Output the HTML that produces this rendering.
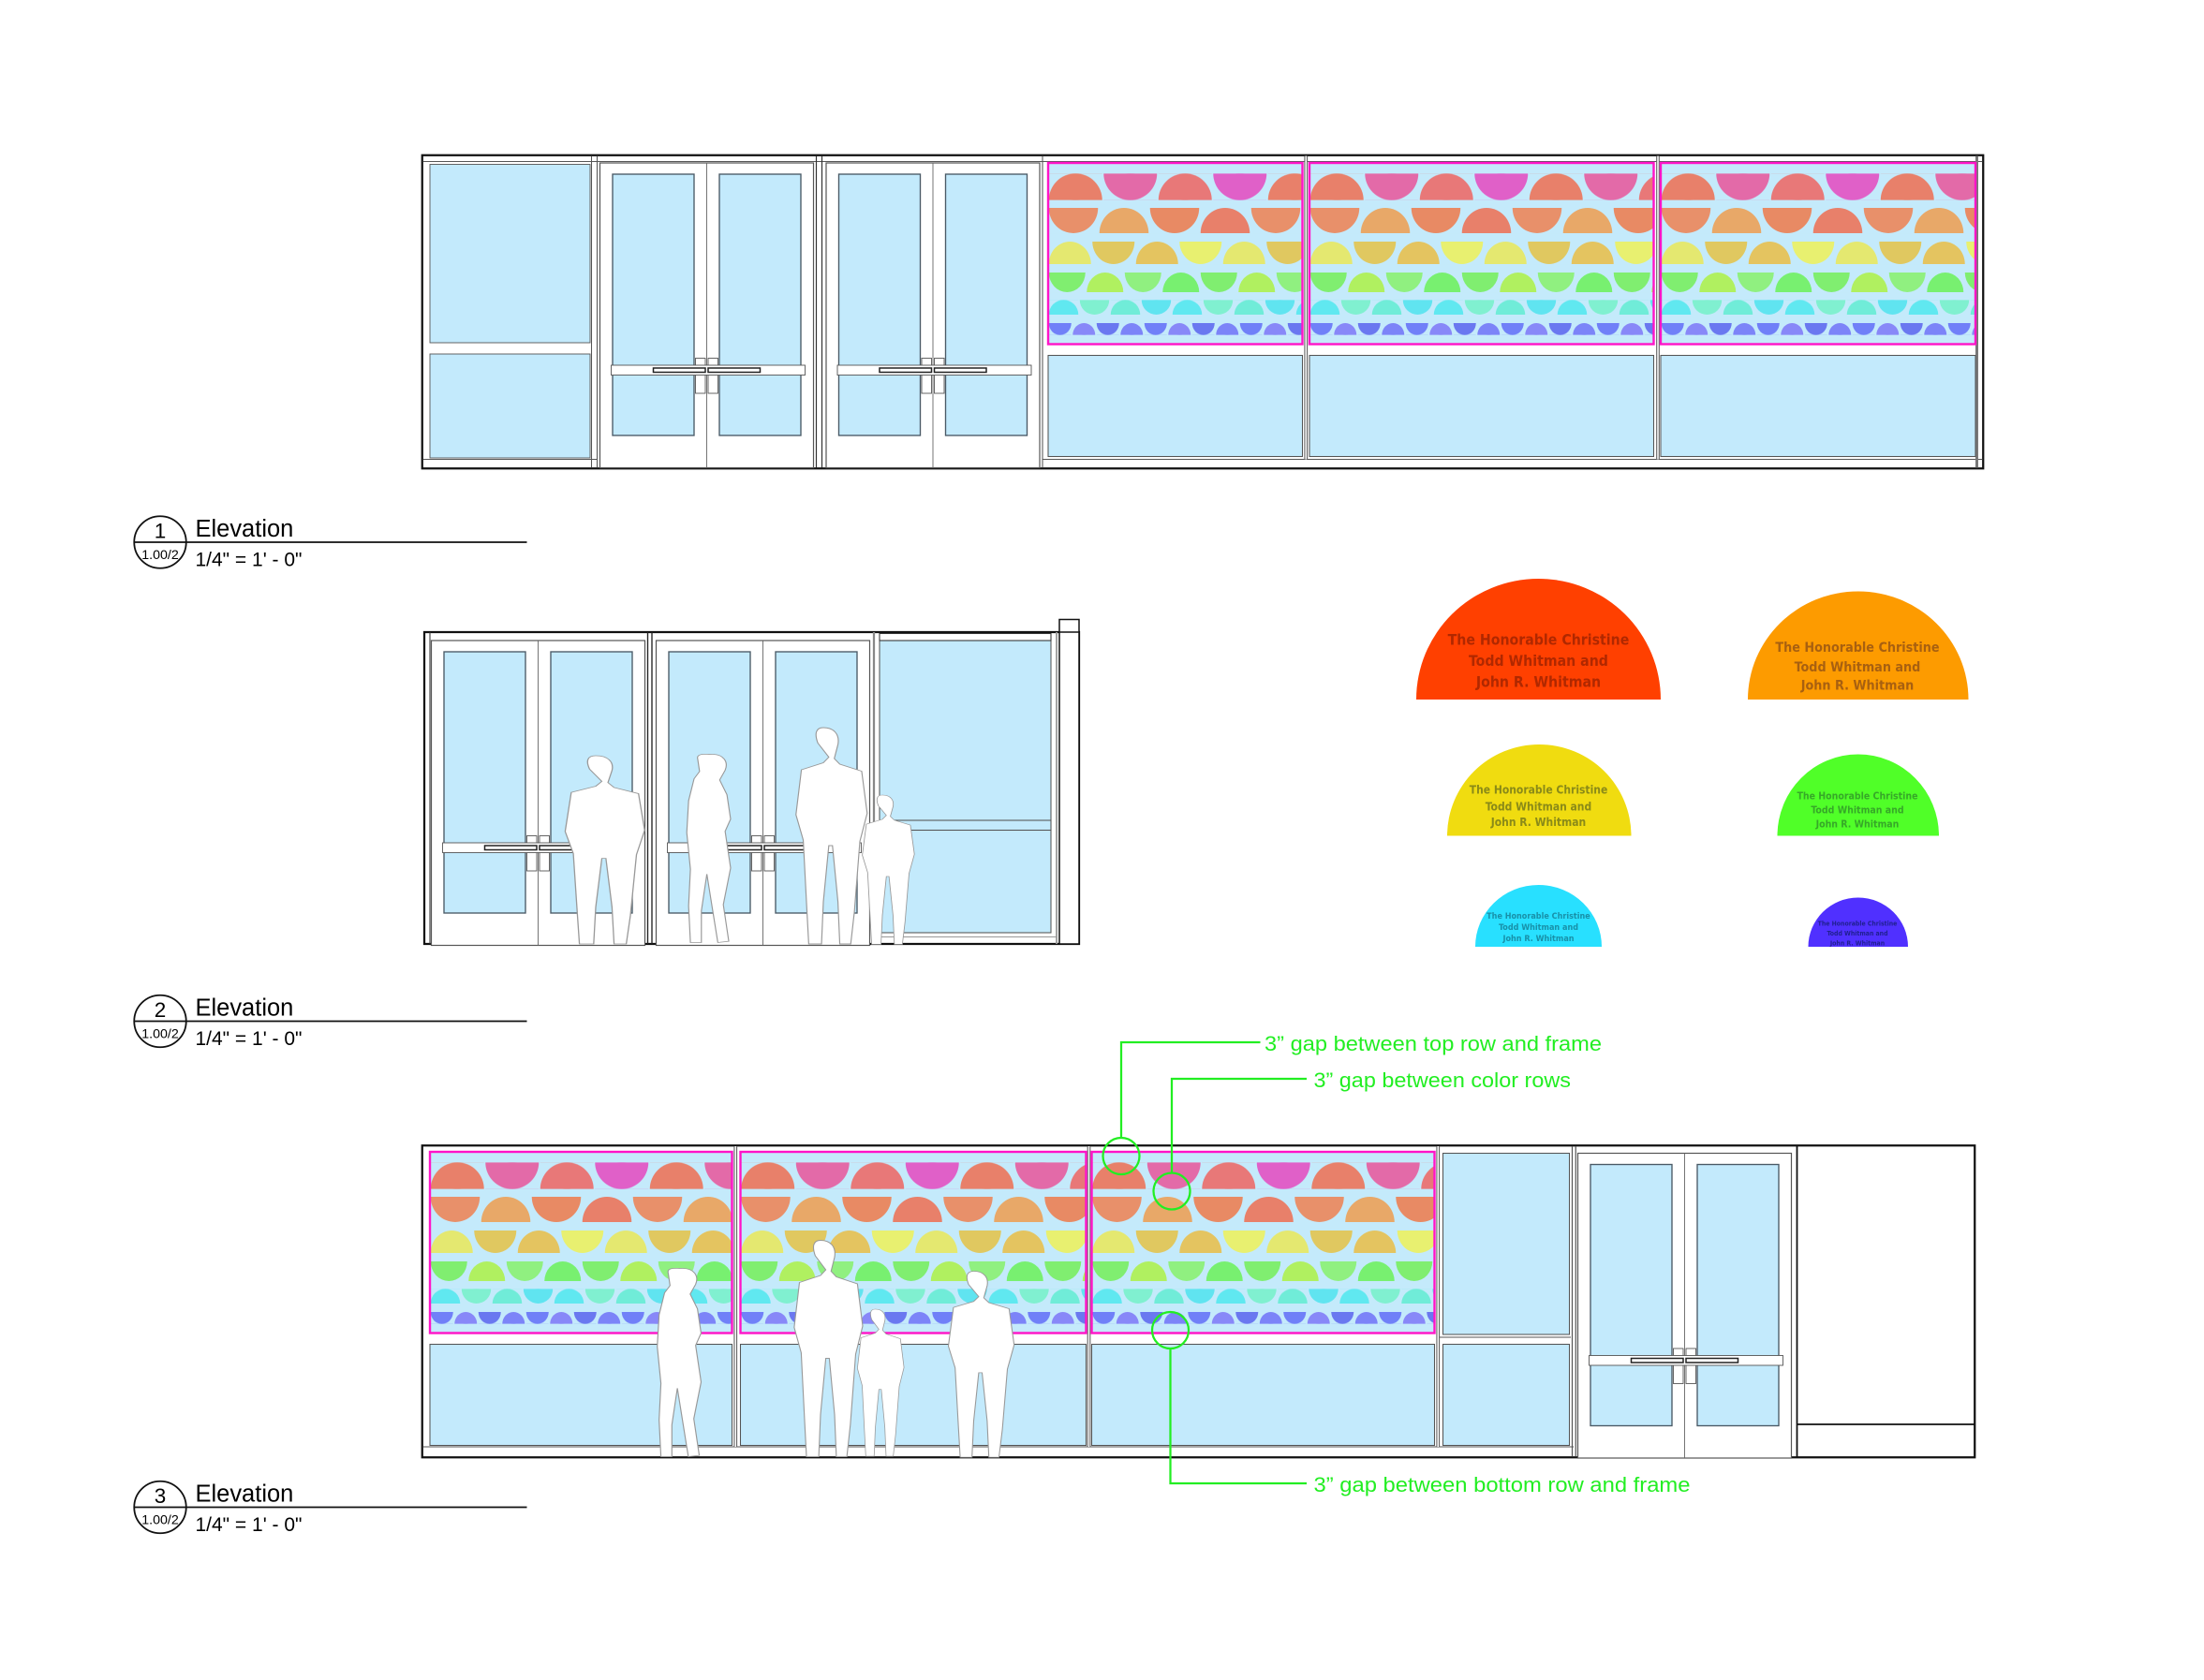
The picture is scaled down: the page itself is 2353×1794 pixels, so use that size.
<!DOCTYPE html>
<html><head><meta charset="utf-8"><style>html,body{margin:0;padding:0;background:#fff}svg{display:block}</style></head>
<body>
<svg width="2353" height="1794" viewBox="0 0 1568.67 1196" xmlns="http://www.w3.org/2000/svg" font-family="Liberation Sans, sans-serif">
<defs>
<pattern id="r1" patternUnits="userSpaceOnUse" x="0" y="7.5" width="156" height="19">
 <path d="M0.5,19 A19,19 0 0 1 38.5,19Z" fill="#e8806a"/>
 <path d="M39.5,0 A19,19 0 0 0 77.5,0Z" fill="#e36aa8"/>
 <path d="M78.5,19 A19,19 0 0 1 116.5,19Z" fill="#e87878"/>
 <path d="M117.5,0 A19,19 0 0 0 155.5,0Z" fill="#e060c8"/>
</pattern>
<pattern id="r2" patternUnits="userSpaceOnUse" x="0" y="32" width="144" height="18">
 <path d="M0.5,0 A17.5,18 0 0 0 35.5,0Z" fill="#e8906a"/>
 <path d="M36.5,18 A17.5,18 0 0 1 71.5,18Z" fill="#e8a868"/>
 <path d="M72.5,0 A17.5,18 0 0 0 107.5,0Z" fill="#e88a64"/>
 <path d="M108.5,18 A17.5,18 0 0 1 143.5,18Z" fill="#e8806a"/>
</pattern>
<pattern id="r3" patternUnits="userSpaceOnUse" x="0" y="56" width="124" height="16">
 <path d="M0.5,16 A15,16 0 0 1 30.5,16Z" fill="#e4e870"/>
 <path d="M31.5,0 A15,16 0 0 0 61.5,0Z" fill="#e0c860"/>
 <path d="M62.5,16 A15,16 0 0 1 92.5,16Z" fill="#e4c460"/>
 <path d="M93.5,0 A15,16 0 0 0 123.5,0Z" fill="#e8f070"/>
</pattern>
<pattern id="r4" patternUnits="userSpaceOnUse" x="0" y="78" width="108" height="14">
 <path d="M0.5,0 A13,14 0 0 0 26.5,0Z" fill="#80ee70"/>
 <path d="M27.5,14 A13,14 0 0 1 53.5,14Z" fill="#b0f060"/>
 <path d="M54.5,0 A13,14 0 0 0 80.5,0Z" fill="#90f080"/>
 <path d="M81.5,14 A13,14 0 0 1 107.5,14Z" fill="#78f070"/>
</pattern>
<pattern id="r5" patternUnits="userSpaceOnUse" x="0" y="97.5" width="88" height="10.5">
 <path d="M0.5,10.5 A10.5,10.5 0 0 1 21.5,10.5Z" fill="#60e8f0"/>
 <path d="M22.5,0 A10.5,10.5 0 0 0 43.5,0Z" fill="#80f0d0"/>
 <path d="M44.5,10.5 A10.5,10.5 0 0 1 65.5,10.5Z" fill="#70ecd8"/>
 <path d="M66.5,0 A10.5,10.5 0 0 0 87.5,0Z" fill="#60e4f0"/>
</pattern>
<pattern id="r6" patternUnits="userSpaceOnUse" x="0" y="114" width="68" height="8.5">
 <path d="M0.5,0 A8,8.5 0 0 0 16.5,0Z" fill="#7080f8"/>
 <path d="M17.5,8.5 A8,8.5 0 0 1 33.5,8.5Z" fill="#8888f8"/>
 <path d="M34.5,0 A8,8.5 0 0 0 50.5,0Z" fill="#6a78f0"/>
 <path d="M51.5,8.5 A8,8.5 0 0 1 67.5,8.5Z" fill="#7c84f8"/>
</pattern>
<g id="door">
 <rect x="0" y="0" width="152" height="217" fill="#fff" stroke="#555" stroke-width="0.8"/>
 <line x1="76" y1="0" x2="76" y2="217" stroke="#666" stroke-width="0.6"/>
 <rect x="9" y="8" width="58" height="186" fill="#c3eafc" stroke="#4a5a66" stroke-width="0.9"/>
 <rect x="85" y="8" width="58" height="186" fill="#c3eafc" stroke="#4a5a66" stroke-width="0.9"/>
 <rect x="68" y="139" width="7" height="25" fill="#fff" stroke="#555" stroke-width="0.6"/>
 <rect x="77" y="139" width="7" height="25" fill="#fff" stroke="#555" stroke-width="0.6"/>
 <rect x="8" y="144" width="138" height="7" fill="#fff" stroke="#555" stroke-width="0.6"/>
 <rect x="38" y="146" width="37" height="3" fill="#fff" stroke="#222" stroke-width="1"/>
 <rect x="77" y="146" width="37" height="3" fill="#fff" stroke="#222" stroke-width="1"/>
</g>
<path id="adult" d="M0,0 c6,0 9,5 8,12 l-2,10 l3,4 l12,5 l3,30 l-4,20 l-3,50 l-2,23 l-6,0 l-1,-30 l-3,-40 l-2,0 l-3,40 l-1,30 l-7,0 l-1,-24 l-2,-50 l-4,-18 l3,-32 l12,-5 l3,-4 l-6,-10 c-2,-7 -1,-11 3,-11 Z" fill="#fff" stroke="#999" stroke-width="0.6"/>
<path id="woman" d="M0,0 c6,0 9,6 7,13 l-3,8 l4,12 l2,20 l-3,10 l3,30 l-4,30 l3,30 l-6,1 l-3,-28 l-3,-28 l-3,30 l0,26 l-6,0 l-1,-30 l1,-30 l-2,-30 l1,-26 l3,-18 l3,-6 l-1,-10 C-9,-1 -4,0 0,0 Z" fill="#fff" stroke="#999" stroke-width="0.6"/>
</defs>

<!-- ============ ELEVATION 1 ============ -->
<rect x="300.5" y="110.5" width="1111" height="223" fill="#fff" stroke="#111" stroke-width="1.5"/>
<line x1="301" y1="115" x2="1411" y2="115" stroke="#555" stroke-width="0.6"/>
<rect x="306" y="117" width="114" height="127" fill="#c3eafc" stroke="#555" stroke-width="0.6"/>
<rect x="306" y="252" width="114" height="74" fill="#c3eafc" stroke="#555" stroke-width="0.6"/>
<line x1="301" y1="327" x2="425" y2="327" stroke="#555" stroke-width="0.7"/>
<line x1="421" y1="111" x2="421" y2="333" stroke="#555" stroke-width="0.7"/>
<line x1="425" y1="111" x2="425" y2="333" stroke="#555" stroke-width="0.7"/>
<use href="#door" x="427" y="116"/>
<line x1="581" y1="111" x2="581" y2="333" stroke="#333" stroke-width="0.8"/>
<line x1="585" y1="111" x2="585" y2="333" stroke="#333" stroke-width="0.8"/>
<use href="#door" x="588" y="116"/>
<line x1="742" y1="111" x2="742" y2="333" stroke="#555" stroke-width="0.7"/>
<line x1="742" y1="327" x2="1411" y2="327" stroke="#555" stroke-width="0.7"/>
<line x1="1407" y1="111" x2="1407" y2="333" stroke="#777" stroke-width="2"/>
<line x1="929.5" y1="111" x2="929.5" y2="327" stroke="#666" stroke-width="2.5"/>
<line x1="929.5" y1="111" x2="929.5" y2="327" stroke="#fff" stroke-width="1"/>
<line x1="1180" y1="111" x2="1180" y2="327" stroke="#666" stroke-width="2.5"/>
<line x1="1180" y1="111" x2="1180" y2="327" stroke="#fff" stroke-width="1"/>
<rect x="746" y="253" width="181" height="72" fill="#c3eafc" stroke="#555" stroke-width="0.7"/>
<rect x="932" y="253" width="245" height="72" fill="#c3eafc" stroke="#555" stroke-width="0.7"/>
<rect x="1182" y="253" width="224" height="72" fill="#c3eafc" stroke="#555" stroke-width="0.7"/>

<g transform="translate(746,116)">
 <rect x="0" y="0" width="181" height="129" fill="#c4eafb"/>
 <rect x="0" y="7.5" width="181" height="19" fill="url(#r1)"/><rect x="0" y="32" width="181" height="18" fill="url(#r2)"/><rect x="0" y="56" width="181" height="16" fill="url(#r3)"/><rect x="0" y="78" width="181" height="14" fill="url(#r4)"/><rect x="0" y="97.5" width="181" height="10.5" fill="url(#r5)"/><rect x="0" y="114" width="181" height="8.5" fill="url(#r6)"/>
 <rect x="0" y="0" width="181" height="129" fill="none" stroke="#ff14c8" stroke-width="1.6"/>
</g>
<g transform="translate(932,116)">
 <rect x="0" y="0" width="245" height="129" fill="#c4eafb"/>
 <rect x="0" y="7.5" width="245" height="19" fill="url(#r1)"/><rect x="0" y="32" width="245" height="18" fill="url(#r2)"/><rect x="0" y="56" width="245" height="16" fill="url(#r3)"/><rect x="0" y="78" width="245" height="14" fill="url(#r4)"/><rect x="0" y="97.5" width="245" height="10.5" fill="url(#r5)"/><rect x="0" y="114" width="245" height="8.5" fill="url(#r6)"/>
 <rect x="0" y="0" width="245" height="129" fill="none" stroke="#ff14c8" stroke-width="1.6"/>
</g>
<g transform="translate(1182,116)">
 <rect x="0" y="0" width="224" height="129" fill="#c4eafb"/>
 <rect x="0" y="7.5" width="224" height="19" fill="url(#r1)"/><rect x="0" y="32" width="224" height="18" fill="url(#r2)"/><rect x="0" y="56" width="224" height="16" fill="url(#r3)"/><rect x="0" y="78" width="224" height="14" fill="url(#r4)"/><rect x="0" y="97.5" width="224" height="10.5" fill="url(#r5)"/><rect x="0" y="114" width="224" height="8.5" fill="url(#r6)"/>
 <rect x="0" y="0" width="224" height="129" fill="none" stroke="#ff14c8" stroke-width="1.6"/>
</g>

<g>
 <circle cx="114" cy="386" r="18.5" fill="#fff" stroke="#111" stroke-width="1.2"/>
 <line x1="95.5" y1="386" x2="375" y2="386" stroke="#111" stroke-width="1.2"/>
 <text x="114" y="383" font-size="15" text-anchor="middle">1</text>
 <text x="114" y="398" font-size="9.5" text-anchor="middle">1.00/2</text>
 <text x="139" y="382" font-size="17">Elevation</text>
 <text x="139" y="403" font-size="14">1/4" = 1' - 0"</text>
</g>

<!-- ============ ELEVATION 2 ============ -->
<rect x="302" y="450" width="466" height="222" fill="#fff" stroke="#111" stroke-width="1.5"/>
<rect x="754" y="441" width="14" height="231" fill="#fff" stroke="#111" stroke-width="1"/>
<line x1="754" y1="450" x2="768" y2="450" stroke="#111" stroke-width="1"/>
<line x1="306" y1="450" x2="306" y2="672" stroke="#333" stroke-width="0.7"/>
<use href="#door" x="307" y="456"/>
<line x1="461" y1="450" x2="461" y2="672" stroke="#222" stroke-width="0.9"/>
<line x1="464" y1="450" x2="464" y2="672" stroke="#222" stroke-width="0.9"/>
<use href="#door" x="467" y="456"/>
<line x1="622" y1="450" x2="622" y2="672" stroke="#888" stroke-width="1.5"/>
<rect x="626" y="456" width="122" height="208" fill="#c3eafc" stroke="#555" stroke-width="0.7"/>
<rect x="626" y="451" width="122" height="5" fill="#fff" stroke="#333" stroke-width="0.7"/>
<rect x="626" y="584" width="122" height="7" fill="#c3eafc" stroke="#555" stroke-width="0.7"/>
<line x1="752" y1="450" x2="752" y2="672" stroke="#999" stroke-width="1.2"/>
<line x1="624" y1="667" x2="752" y2="667" stroke="#999" stroke-width="0.7"/>
<use href="#adult" transform="translate(424,538) scale(1.45,0.87)"/>
<use href="#woman" transform="translate(507,537) scale(1.3,0.87)"/>
<use href="#adult" transform="translate(586,518) scale(1.3,1)"/>
<use href="#adult" transform="translate(628,566) scale(0.95,0.69)"/>

<g>
 <circle cx="114" cy="727" r="18.5" fill="#fff" stroke="#111" stroke-width="1.2"/>
 <line x1="95.5" y1="727" x2="375" y2="727" stroke="#111" stroke-width="1.2"/>
 <text x="114" y="724" font-size="15" text-anchor="middle">2</text>
 <text x="114" y="739" font-size="9.5" text-anchor="middle">1.00/2</text>
 <text x="139" y="723" font-size="17">Elevation</text>
 <text x="139" y="744" font-size="14">1/4" = 1' - 0"</text>
</g>

<!-- ============ LEGEND ============ -->
<g font-family="DejaVu Sans Condensed, DejaVu Sans, sans-serif" text-anchor="middle" font-weight="bold">
 <path d="M1008,498 A87,86 0 0 1 1182,498Z" fill="#ff4000"/>
 <g fill="#b02800" font-size="10.5"><text x="1095" y="459">The Honorable Christine</text><text x="1095" y="474">Todd Whitman and</text><text x="1095" y="489">John R. Whitman</text></g>
 <path d="M1244,498 A78.5,77 0 0 1 1401,498Z" fill="#fd9b00"/>
 <g fill="#a86010" font-size="9.5"><text x="1322" y="464">The Honorable Christine</text><text x="1322" y="478">Todd Whitman and</text><text x="1322" y="491">John R. Whitman</text></g>
 <path d="M1030,595 A65.5,65 0 0 1 1161,595Z" fill="#f0dc10"/>
 <g fill="#8a8a18" font-size="8"><text x="1095" y="565">The Honorable Christine</text><text x="1095" y="577">Todd Whitman and</text><text x="1095" y="588">John R. Whitman</text></g>
 <path d="M1265,595 A57.5,58 0 0 1 1380,595Z" fill="#50ff28"/>
 <g fill="#36a828" font-size="7"><text x="1322" y="569">The Honorable Christine</text><text x="1322" y="579">Todd Whitman and</text><text x="1322" y="589">John R. Whitman</text></g>
 <path d="M1050,674 A45,44 0 0 1 1140,674Z" fill="#28e0ff"/>
 <g fill="#1890a8" font-size="6"><text x="1095" y="654">The Honorable Christine</text><text x="1095" y="662">Todd Whitman and</text><text x="1095" y="670">John R. Whitman</text></g>
 <path d="M1287,674 A35.5,35 0 0 1 1358,674Z" fill="#5030ff"/>
 <g fill="#202090" font-size="4.6"><text x="1322" y="659">The Honorable Christine</text><text x="1322" y="666">Todd Whitman and</text><text x="1322" y="673">John R. Whitman</text></g>
</g>

<!-- ============ ELEVATION 3 ============ -->
<rect x="300.5" y="815.5" width="1105" height="222" fill="#fff" stroke="#111" stroke-width="1.5"/>
<line x1="301" y1="1030" x2="1120" y2="1030" stroke="#555" stroke-width="0.7"/>
<rect x="306" y="957" width="215" height="72" fill="#c3eafc" stroke="#555" stroke-width="0.7"/>
<rect x="527" y="957" width="246" height="72" fill="#c3eafc" stroke="#555" stroke-width="0.7"/>
<rect x="777" y="957" width="244" height="72" fill="#c3eafc" stroke="#555" stroke-width="0.7"/>
<rect x="1027" y="821" width="90" height="129" fill="#c3eafc" stroke="#555" stroke-width="0.7"/>
<rect x="1027" y="957" width="90" height="72" fill="#c3eafc" stroke="#555" stroke-width="0.7"/>
<line x1="1024" y1="952" x2="1118" y2="952" stroke="#555" stroke-width="0.7"/>
<line x1="523.5" y1="816" x2="523.5" y2="1030" stroke="#666" stroke-width="2.5"/>
<line x1="523.5" y1="816" x2="523.5" y2="1030" stroke="#fff" stroke-width="1"/>
<line x1="775" y1="816" x2="775" y2="1030" stroke="#666" stroke-width="2.5"/>
<line x1="775" y1="816" x2="775" y2="1030" stroke="#fff" stroke-width="1"/>
<line x1="1023.5" y1="816" x2="1023.5" y2="1030" stroke="#666" stroke-width="2.5"/>
<line x1="1023.5" y1="816" x2="1023.5" y2="1030" stroke="#fff" stroke-width="1"/>
<line x1="1119" y1="816" x2="1119" y2="1037" stroke="#555" stroke-width="0.8"/>
<line x1="1121.5" y1="816" x2="1121.5" y2="1037" stroke="#555" stroke-width="0.8"/>
<use href="#door" x="1123" y="821"/>
<line x1="1279" y1="816" x2="1279" y2="1037" stroke="#111" stroke-width="1.2"/>
<line x1="1279" y1="1014" x2="1405" y2="1014" stroke="#111" stroke-width="1.2"/>

<g transform="translate(306,820)">
 <rect x="0" y="0" width="215" height="129" fill="#c4eafb"/>
 <rect x="0" y="7.5" width="215" height="19" fill="url(#r1)"/><rect x="0" y="32" width="215" height="18" fill="url(#r2)"/><rect x="0" y="56" width="215" height="16" fill="url(#r3)"/><rect x="0" y="78" width="215" height="14" fill="url(#r4)"/><rect x="0" y="97.5" width="215" height="10.5" fill="url(#r5)"/><rect x="0" y="114" width="215" height="8.5" fill="url(#r6)"/>
 <rect x="0" y="0" width="215" height="129" fill="none" stroke="#ff14c8" stroke-width="1.6"/>
</g>
<g transform="translate(527,820)">
 <rect x="0" y="0" width="246" height="129" fill="#c4eafb"/>
 <rect x="0" y="7.5" width="246" height="19" fill="url(#r1)"/><rect x="0" y="32" width="246" height="18" fill="url(#r2)"/><rect x="0" y="56" width="246" height="16" fill="url(#r3)"/><rect x="0" y="78" width="246" height="14" fill="url(#r4)"/><rect x="0" y="97.5" width="246" height="10.5" fill="url(#r5)"/><rect x="0" y="114" width="246" height="8.5" fill="url(#r6)"/>
 <rect x="0" y="0" width="246" height="129" fill="none" stroke="#ff14c8" stroke-width="1.6"/>
</g>
<g transform="translate(777,820)">
 <rect x="0" y="0" width="244" height="129" fill="#c4eafb"/>
 <rect x="0" y="7.5" width="244" height="19" fill="url(#r1)"/><rect x="0" y="32" width="244" height="18" fill="url(#r2)"/><rect x="0" y="56" width="244" height="16" fill="url(#r3)"/><rect x="0" y="78" width="244" height="14" fill="url(#r4)"/><rect x="0" y="97.5" width="244" height="10.5" fill="url(#r5)"/><rect x="0" y="114" width="244" height="8.5" fill="url(#r6)"/>
 <rect x="0" y="0" width="244" height="129" fill="none" stroke="#ff14c8" stroke-width="1.6"/>
</g>
<use href="#woman" transform="translate(486,903) scale(1.3,0.87)"/>
<use href="#adult" transform="translate(584,883) scale(1.25,1)"/>
<use href="#adult" transform="translate(623,932) scale(0.85,0.68)"/>
<use href="#adult" transform="translate(693,905) scale(1.2,0.86)"/>

<g stroke="#22ee22" stroke-width="1.5" fill="none">
 <polyline points="897,742 798,742 798,810"/>
 <circle cx="798" cy="823" r="13"/>
 <polyline points="930,768 834,768 834,835"/>
 <circle cx="834" cy="848" r="13"/>
 <circle cx="833" cy="947" r="13"/>
 <polyline points="833,960 833,1056 930,1056"/>
</g>
<g fill="#22ee22" font-size="15">
 <text x="900" y="748" textLength="240" lengthAdjust="spacingAndGlyphs">3” gap between top row and frame</text>
 <text x="935" y="774" textLength="183" lengthAdjust="spacingAndGlyphs">3” gap between color rows</text>
 <text x="935" y="1062" textLength="268" lengthAdjust="spacingAndGlyphs">3” gap between bottom row and frame</text>
</g>

<g>
 <circle cx="114" cy="1073" r="18.5" fill="#fff" stroke="#111" stroke-width="1.2"/>
 <line x1="95.5" y1="1073" x2="375" y2="1073" stroke="#111" stroke-width="1.2"/>
 <text x="114" y="1070" font-size="15" text-anchor="middle">3</text>
 <text x="114" y="1085" font-size="9.5" text-anchor="middle">1.00/2</text>
 <text x="139" y="1069" font-size="17">Elevation</text>
 <text x="139" y="1090" font-size="14">1/4" = 1' - 0"</text>
</g>
</svg>
</body></html>
